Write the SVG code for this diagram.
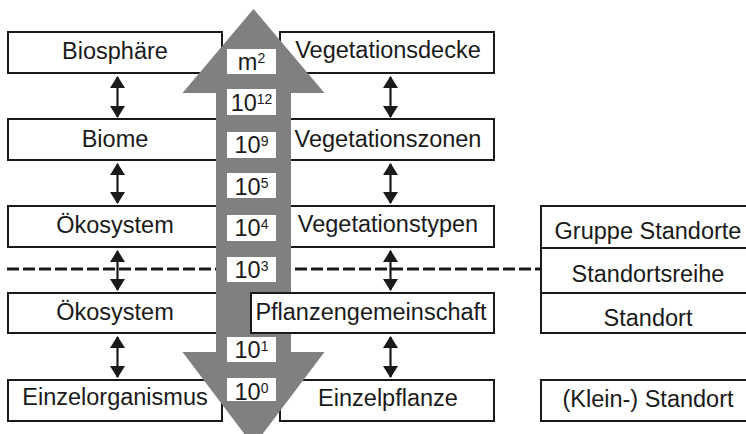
<svg xmlns="http://www.w3.org/2000/svg" width="746" height="434" viewBox="0 0 746 434">
<style>
.box{fill:#fff;stroke:#1a1a1a;stroke-width:2}
.t{font-family:"Liberation Sans",Arial,sans-serif;font-size:23.5px;fill:#1a1a1a;text-anchor:middle}
.lb{fill:#fff;stroke:none}
.sup{font-size:14px}
.da{stroke:#1a1a1a;stroke-width:2.2;fill:none;marker-start:url(#ah);marker-end:url(#ah)}
.dash{stroke:#1a1a1a;stroke-width:3.2;stroke-dasharray:12 4;fill:none}
</style>
<defs>
<marker id="ah" viewBox="0 0 12 15" refX="11" refY="7.5" markerWidth="12" markerHeight="15" markerUnits="userSpaceOnUse" orient="auto-start-reverse">
<path d="M0,0 L12,7.5 L0,15 z" fill="#1a1a1a"/>
</marker>
</defs>
<rect width="746" height="434" fill="#fff"/>
<g id="connectors">
<line class="dash" x1="7" y1="269" x2="541" y2="269"/>
<line class="da" x1="117.5" y1="77" x2="117.5" y2="117"/>
<line class="da" x1="117.5" y1="164" x2="117.5" y2="203"/>
<line class="da" x1="117.5" y1="251" x2="117.5" y2="290"/>
<line class="da" x1="117.5" y1="337" x2="117.5" y2="377"/>
<line class="da" x1="390.5" y1="77" x2="390.5" y2="117"/>
<line class="da" x1="390.5" y1="164" x2="390.5" y2="203"/>
<line class="da" x1="390.5" y1="251" x2="390.5" y2="290"/>
<line class="da" x1="390.5" y1="337" x2="390.5" y2="377"/>
</g>
<g id="biosphaere"><rect class="box" x="8" y="32" width="214" height="41"/><text class="t" x="115" y="59">Biosphäre</text></g>
<g id="biome"><rect class="box" x="8" y="119" width="214" height="41"/><text class="t" x="115" y="147">Biome</text></g>
<g id="oekosystem1"><rect class="box" x="8" y="206" width="214" height="41"/><text class="t" x="115" y="233">Ökosystem</text></g>
<g id="oekosystem2"><rect class="box" x="8" y="293" width="214" height="40"/><text class="t" x="115" y="320">Ökosystem</text></g>
<g id="einzelorganismus"><rect class="box" x="8" y="380" width="214" height="41"/><text class="t" x="115" y="405">Einzelorganismus</text></g>
<g id="vegetationsdecke"><rect class="box" x="280" y="32" width="214" height="41"/><text class="t" x="388" y="58">Vegetationsdecke</text></g>
<g id="vegetationszonen"><rect class="box" x="280" y="119" width="214" height="41"/><text class="t" x="388" y="147">Vegetationszonen</text></g>
<g id="vegetationstypen"><rect class="box" x="280" y="206" width="214" height="41"/><text class="t" x="388" y="232">Vegetationstypen</text></g>
<g id="einzelpflanze"><rect class="box" x="280" y="380" width="214" height="41"/><text class="t" x="388" y="406">Einzelpflanze</text></g>
<g id="standorte">
<rect class="box" x="541" y="206" width="216" height="127"/>
<line x1="541" y1="248" x2="757" y2="248" stroke="#1a1a1a" stroke-width="2"/>
<line x1="541" y1="293" x2="757" y2="293" stroke="#1a1a1a" stroke-width="2"/>
<text class="t" x="648" y="239">Gruppe Standorte</text>
<text class="t" x="648" y="282">Standortsreihe</text>
<text class="t" x="648" y="325.5">Standort</text>
</g>
<g id="kleinstandort"><rect class="box" x="541" y="380" width="216" height="41"/><text class="t" x="648" y="407">(Klein-) Standort</text></g>
<g id="scale-arrow">
<polygon points="253.5,9 324.5,93 291,93 291,352 324.5,352 253.5,446 182.5,352 216,352 216,93 182.5,93" fill="#808080"/>
<rect class="lb" x="227" y="49" width="49" height="25"/><text class="t" x="251.5" y="70">m<tspan class="sup" dy="-7">2</tspan></text>
<rect class="lb" x="227" y="89" width="49" height="26"/><text class="t" x="251.5" y="111">10<tspan class="sup" dy="-7">12</tspan></text>
<rect class="lb" x="227" y="132" width="49" height="26"/><text class="t" x="251.5" y="153">10<tspan class="sup" dy="-7">9</tspan></text>
<rect class="lb" x="227" y="173" width="49" height="25"/><text class="t" x="251.5" y="195">10<tspan class="sup" dy="-7">5</tspan></text>
<rect class="lb" x="227" y="215" width="49" height="26"/><text class="t" x="251.5" y="236">10<tspan class="sup" dy="-7">4</tspan></text>
<rect class="lb" x="227" y="257" width="49" height="25"/><text class="t" x="251.5" y="277.5">10<tspan class="sup" dy="-7">3</tspan></text>
<rect class="lb" x="227" y="337" width="49" height="25"/><text class="t" x="251.5" y="358">10<tspan class="sup" dy="-7">1</tspan></text>
<rect class="lb" x="227" y="378" width="49" height="23"/><text class="t" x="251.5" y="399.5">10<tspan class="sup" dy="-7">0</tspan></text>
</g>
<g id="pflanzengemeinschaft"><rect class="box" x="251" y="293" width="243" height="40"/><text class="t" x="371" y="320">Pflanzengemeinschaft</text></g>
</svg>
